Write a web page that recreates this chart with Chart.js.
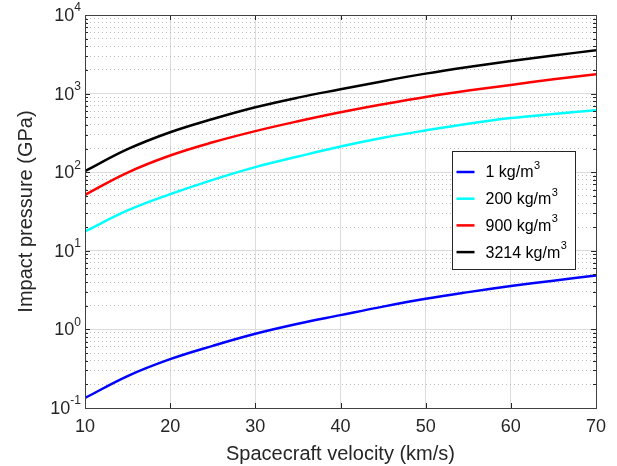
<!DOCTYPE html>
<html>
<head>
<meta charset="utf-8">
<script src="https://cdn.jsdelivr.net/npm/chart.js@4"></script>
<style>
  html, body { margin: 0; padding: 0; background: #fff; }
  #wrap { width: 617px; height: 466px; }
</style>
</head>
<body>
<div id="wrap"><canvas id="impactChart"></canvas></div>
<script>
const velocity = [10, 15, 20, 25, 30, 35, 40, 45, 50, 55, 60, 65, 70];
const density1 = [0.134, 0.255, 0.418, 0.618, 0.88, 1.18, 1.52, 1.95, 2.45, 2.98, 3.56, 4.17, 4.85];
const density200 = [17.6, 32.6, 52.5, 80, 116, 158, 212, 274, 340, 414, 488, 550, 614];
const density900 = [51.6, 99, 163, 240, 333, 444, 578, 731, 907, 1092, 1290, 1520, 1760];
const density3214 = [103, 196, 322, 475, 670, 889, 1135, 1440, 1795, 2180, 2600, 3050, 3560];
const seriesLabels = ["1 kg/m³", "200 kg/m³", "900 kg/m³", "3214 kg/m³"];
const seriesColors = ["#0000ff", "#00ffff", "#ff0000", "#000000"];
const xTicks = [10, 20, 30, 40, 50, 60, 70];
const yDecades = [0.1, 1, 10, 100, 1000, 10000];
const yExponents = ["-1", "0", "1", "2", "3", "4"];

const FONT = '"Liberation Sans", Arial, sans-serif';
Chart.defaults.font.family = FONT;
Chart.defaults.color = "#262626";

const isDecade = (v) => Math.abs(Math.log10(v) - Math.round(Math.log10(v))) < 1e-9;

// all 1..9 x 10^n positions for the log grid
const yTickValues = [];
yDecades.forEach((d, i) => {
  if (i === yDecades.length - 1) { yTickValues.push(d); return; }
  for (let k = 1; k <= 9; k++) yTickValues.push(d * k);
});

const toPoints = (ys) => velocity.map((v, i) => ({ x: v, y: ys[i] }));
const seriesValues = [density1, density200, density900, density3214];

// box around the axes, inward tick marks and 10^n labels like matlab
const axesBox = {
  id: "axesBox",
  afterDatasetsDraw(chart) {
    const { ctx, chartArea: a, scales } = chart;
    ctx.save();
    ctx.strokeStyle = "#262626";
    ctx.lineWidth = 1;
    ctx.beginPath();
    xTicks.forEach((v) => {
      const px = Math.round(scales.x.getPixelForValue(v)) + 0.5;
      ctx.moveTo(px, a.bottom); ctx.lineTo(px, a.bottom - 5);
      ctx.moveTo(px, a.top); ctx.lineTo(px, a.top + 5);
    });
    yTickValues.forEach((v) => {
      const py = Math.round(scales.y.getPixelForValue(v)) + 0.5;
      const len = isDecade(v) ? 5 : 3;
      ctx.moveTo(a.left, py); ctx.lineTo(a.left + len, py);
      ctx.moveTo(a.right, py); ctx.lineTo(a.right - len, py);
    });
    ctx.stroke();
    ctx.strokeStyle = "#404040";
    ctx.strokeRect(Math.round(a.left) + 0.5, Math.round(a.top) + 0.5,
      Math.round(a.right - a.left), Math.round(a.bottom - a.top));

    // y tick labels with real superscripts
    ctx.fillStyle = "#262626";
    ctx.textBaseline = "middle";
    ctx.textAlign = "left";
    yDecades.forEach((d, i) => {
      const py = scales.y.getPixelForValue(d);
      ctx.font = "18px " + FONT;
      const bw = ctx.measureText("10").width;
      ctx.font = "12px " + FONT;
      const ew = ctx.measureText(yExponents[i]).width;
      const x0 = a.left - 4 - ew - bw;
      ctx.font = "18px " + FONT;
      ctx.fillText("10", x0, py + 1);
      ctx.font = "12px " + FONT;
      ctx.fillText(yExponents[i], x0 + bw, py - 7);
    });
    ctx.restore();
  },
};

const boxLegend = {
  id: "boxLegend",
  afterDraw(chart) {
    const ctx = chart.ctx;
    const x = 452.5, y = 151.5, w = 123, h = 118;
    ctx.save();
    ctx.fillStyle = "#fff";
    ctx.fillRect(x, y, w, h);
    ctx.strokeStyle = "#262626";
    ctx.lineWidth = 1;
    ctx.strokeRect(x, y, w, h);
    ctx.textBaseline = "middle";
    chart.data.datasets.forEach((ds, i) => {
      const cy = y + 20.5 + i * 26.7;
      ctx.strokeStyle = ds.borderColor;
      ctx.lineWidth = 2.5;
      ctx.beginPath();
      ctx.moveTo(x + 4, cy);
      ctx.lineTo(x + 22, cy);
      ctx.stroke();
      ctx.fillStyle = "#000";
      const base = ds.label.replace("³", "");
      ctx.font = "16px " + FONT;
      ctx.fillText(base, x + 33, cy + 1);
      const bw = ctx.measureText(base).width;
      ctx.font = "11px " + FONT;
      ctx.fillText("3", x + 33 + bw + 0.5, cy - 6);
    });
    ctx.restore();
  },
};

new Chart(document.getElementById("impactChart").getContext("2d"), {
  type: "line",
  data: {
    datasets: seriesValues.map((ys, i) => ({
      label: seriesLabels[i],
      data: toPoints(ys),
      borderColor: seriesColors[i],
      backgroundColor: seriesColors[i],
      borderWidth: 2.5,
      pointRadius: 0,
      tension: 0.4,
      fill: false,
    })),
  },
  options: {
    responsive: true,
    maintainAspectRatio: false,
    animation: false,
    layout: { padding: { top: 15, right: 21, left: 0, bottom: 0 } },
    plugins: { legend: { display: false }, tooltip: { enabled: false } },
    scales: {
      x: {
        type: "linear",
        min: 10,
        max: 70,
        afterBuildTicks: (scale) => { scale.ticks = xTicks.map((v) => ({ value: v })); },
        afterFit: (scale) => { scale.height = 58; },
        grid: { color: "#dcdcdc", lineWidth: 1, drawTicks: false },
        border: { color: "#404040", width: 1 },
        ticks: { font: { size: 18 }, padding: 8, color: "#262626" },
        title: {
          display: true,
          text: "Spacecraft velocity (km/s)",
          font: { size: 20 },
          color: "#262626",
          padding: { top: 2, bottom: 0 },
        },
      },
      y: {
        type: "logarithmic",
        min: 0.1,
        max: 10000,
        afterBuildTicks: (scale) => { scale.ticks = yTickValues.map((v) => ({ value: v, major: isDecade(v) })); },
        afterFit: (scale) => { scale.width = 85; },
        grid: {
          drawTicks: false,
          lineWidth: 1,
          color: (c) => (c.tick && !isDecade(c.tick.value) ? "#bdbdbd" : "#dcdcdc"),
        },
        border: {
          color: "#404040",
          width: 1,
          dash: (c) => (c.tick && !isDecade(c.tick.value) ? [1, 3] : []),
        },
        ticks: { display: false, autoSkip: false },
        title: {
          display: true,
          text: "Impact pressure (GPa)",
          font: { size: 20 },
          color: "#262626",
          padding: { top: 14, bottom: 0 },
        },
      },
    },
  },
  plugins: [axesBox, boxLegend],
});
</script>
</body>
</html>
